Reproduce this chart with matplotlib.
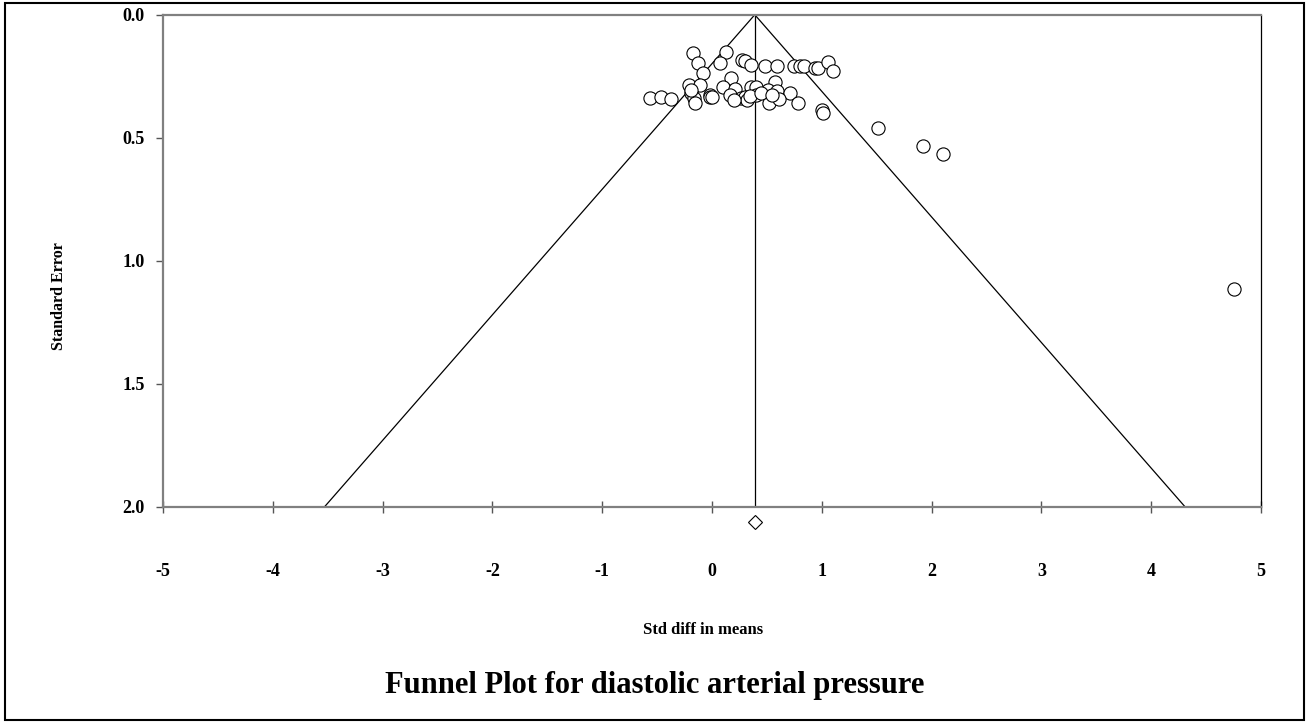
import matplotlib
matplotlib.use("Agg")
import matplotlib.pyplot as plt
from matplotlib.patches import Rectangle

plt.rcParams['font.family'] = ['Liberation Serif', 'DejaVu Serif']

# study effects (std diff in means) and their standard errors
std_diff = [-0.17, -0.13, 0.13, 0.07, 0.27, 0.30, 0.36, 0.48, 0.59, 0.75,
            0.80, 0.84, 0.94, 0.97, 1.06, 1.10, -0.08, 0.17, -0.21, -0.11,
            0.10, 0.57, 0.36, 0.40, 0.21, 0.51, 0.59, 0.71, -0.56, -0.46,
            -0.37, -0.19, -0.16, -0.15, -0.02, -0.02, 0.16, 0.26, 0.30, 0.32,
            0.40, 0.52, 0.61, 0.78, 1.00, 1.01, 1.51, 1.92, 2.10, 4.75,
            -0.19, 0.00, 0.35, 0.45, 0.55, 0.20]
std_err = [0.154, 0.198, 0.153, 0.198, 0.184, 0.188, 0.205, 0.207, 0.207, 0.207,
           0.207, 0.209, 0.218, 0.218, 0.191, 0.229, 0.238, 0.256, 0.286, 0.286,
           0.293, 0.272, 0.295, 0.295, 0.303, 0.306, 0.310, 0.317, 0.340, 0.336,
           0.344, 0.320, 0.340, 0.360, 0.327, 0.333, 0.327, 0.340, 0.333, 0.347,
           0.327, 0.358, 0.341, 0.360, 0.388, 0.398, 0.462, 0.534, 0.566, 1.114,
           0.305, 0.335, 0.330, 0.320, 0.325, 0.345]

mean_effect = 0.39
se_max = 2.0

x_ticks = [-5, -4, -3, -2, -1, 0, 1, 2, 3, 4, 5]
y_ticks = [0.0, 0.5, 1.0, 1.5, 2.0]

fig = plt.figure(figsize=(13.09, 7.22), dpi=100)
ax = fig.add_axes([0.1245, 0.2978, 0.8388, 0.6818])

# funnel (95% limits) and the mean line
ax.plot([mean_effect - 1.96 * se_max, mean_effect, mean_effect + 1.96 * se_max],
        [se_max, 0, se_max], color='black', lw=0.9)
ax.plot([mean_effect, mean_effect], [0, se_max], color='black', lw=0.9)

ax.plot(std_diff, std_err, 'o', mfc='white', mec='black', ms=9.5, mew=0.8,
        linestyle='none', clip_on=False)

# summary diamond just below the axis
ax.plot([mean_effect], [2.06], marker='D', mfc='white', mec='black', ms=7,
        mew=0.8, clip_on=False)

ax.set_xlim(-5, 5)
ax.set_ylim(se_max, 0)
ax.set_xticks(x_ticks)
ax.set_xticklabels([str(t) for t in x_ticks], fontsize=13, fontweight='bold')
ax.set_yticks(y_ticks)
ax.set_yticklabels([f'{t:.1f}' for t in y_ticks], fontsize=13, fontweight='bold')

ax.tick_params(axis='x', direction='inout', length=9, width=1, color='#555555',
               pad=36)
ax.tick_params(axis='y', direction='out', length=5, width=1, color='#555555',
               pad=8)

for side in ['left', 'top', 'bottom']:
    ax.spines[side].set_color('#808080')
    ax.spines[side].set_linewidth(1.6)
ax.spines['right'].set_color('black')
ax.spines['right'].set_linewidth(0.9)

fig.text(0.045, 0.59, 'Standard Error', rotation=90, ha='center', va='center',
         fontsize=11.5, fontweight='bold')
fig.text(0.537, 0.127, 'Std diff in means', ha='center', va='center',
         fontsize=12, fontweight='bold')
fig.text(0.5, 0.051, 'Funnel Plot for diastolic arterial pressure', ha='center',
         va='center', fontsize=22, fontweight='bold')

# frame around the whole figure
fig.patches.append(Rectangle((0.004, 0.003), 0.992, 0.993, transform=fig.transFigure,
                             fill=False, edgecolor='black', lw=1.5))

fig.savefig('out.png', dpi=100)
